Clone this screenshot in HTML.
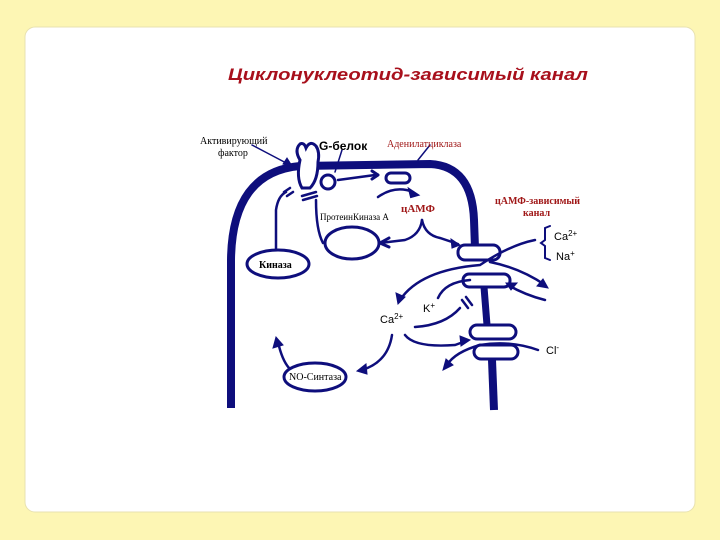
<!DOCTYPE html>
<html><head><meta charset="utf-8"><style>
body{margin:0;width:720px;height:540px;background:#fdf6b4;overflow:hidden}
svg{position:absolute;left:0;top:0}
.s{font-family:"Liberation Sans",sans-serif}
.r{font-family:"Liberation Serif",serif}
</style></head><body>
<svg width="720" height="540" viewBox="0 0 720 540">
<rect x="25" y="27" width="670" height="485" rx="10" fill="#fff" stroke="#e8e2b0"/>
<text class="s" x="228" y="80" font-style="italic" font-weight="bold" font-size="17" fill="#a8101c" textLength="360" lengthAdjust="spacingAndGlyphs">Циклонуклеотид-зависимый  канал</text>
<g fill="none" stroke="#0e0e7c" stroke-linecap="round">
<path d="M231 408 L231 260 Q232 172 300 166 L430 164 Q472 166 474 220 L475 248" stroke-width="8" stroke-linecap="butt"/>
<path d="M484 287 L487 325" stroke-width="7"/>
<path d="M492 360 L494 410" stroke-width="8" stroke-linecap="butt"/>
<rect x="458" y="245" width="42" height="15" rx="7" stroke-width="3" fill="#fff"/>
<rect x="463" y="274" width="47" height="13" rx="6" stroke-width="3" fill="#fff"/>
<rect x="470" y="325" width="46" height="14" rx="7" stroke-width="3" fill="#fff"/>
<rect x="474" y="345" width="44" height="14" rx="7" stroke-width="3" fill="#fff"/>
<path d="M300 160 Q294 150 300 144 Q304 142 306 148 Q310 140 316 146 Q320 152 318 162 Q318 180 310 188 L302 188 Q296 178 300 160Z" stroke-width="3" fill="#fff"/>
<circle cx="328" cy="182" r="7" stroke-width="3" fill="#fff"/>
<rect x="386" y="173" width="24" height="10" rx="5" stroke-width="3" fill="#fff"/>
<ellipse cx="352" cy="243" rx="27" ry="16" stroke-width="3"/>
<ellipse cx="278" cy="264" rx="31" ry="14" stroke-width="3"/>
<ellipse cx="315" cy="377" rx="31" ry="14" stroke-width="3"/>
<path d="M284 192 L290 188 M287 196 L293 192 M302 196 L316 192 M303 200 L317 196" stroke-width="2.5"/>
<path d="M276 250 L276 210 Q278 196 286 192" stroke-width="2.5"/>
<path d="M323 243 Q316 230 316 200" stroke-width="2.5"/>
<path d="M338 180 L375 175" stroke-width="2.5"/>
<path d="M378 175 L372 171 M378 175 L372 179" stroke-width="3"/>
<path d="M378 197 Q395 185 413 192" stroke-width="2.5"/>
<path d="M418 195 L409 189 L411 197Z" fill="#0e0e7c" stroke-width="2"/>
<path d="M422 220 Q420 235 405 240 L380 243" stroke-width="2.5"/>
<path d="M380 243 L389 238 M380 243 L389 247" stroke-width="3"/>
<path d="M422 220 Q425 235 440 238 L458 244" stroke-width="2.5"/>
<path d="M460 245 L451 239 L452 248Z" fill="#0e0e7c"/>
<path d="M535 240 Q510 245 480 265 Q420 270 400 300" stroke-width="2.5"/>
<path d="M398 304 L396 293 L405 297Z" fill="#0e0e7c"/>
<path d="M490 262 Q520 268 545 285" stroke-width="2.5"/>
<path d="M548 288 L537 286 L543 279Z" fill="#0e0e7c"/>
<path d="M545 300 Q525 295 508 285" stroke-width="2.5"/>
<path d="M506 283 L517 283 L511 290Z" fill="#0e0e7c"/>
<path d="M438 298 Q445 282 470 280" stroke-width="2.5"/>
<path d="M415 327 Q445 325 460 308" stroke-width="2.5"/>
<path d="M462 300 L468 308 M466 297 L472 305" stroke-width="2.5"/>
<path d="M405 335 Q415 348 455 345 L466 341" stroke-width="2.5"/>
<path d="M470 340 L460 336 L461 346Z" fill="#0e0e7c"/>
<path d="M538 350 Q510 340 480 345 Q455 352 447 365" stroke-width="2.5"/>
<path d="M443 370 L446 359 L453 365Z" fill="#0e0e7c"/>
<path d="M392 335 Q388 362 362 370" stroke-width="2.5"/>
<path d="M357 371 L366 364 L367 374Z" fill="#0e0e7c"/>
<path d="M289 368 Q282 360 278 342" stroke-width="2.5"/>
<path d="M276 337 L273 348 L283 345Z" fill="#0e0e7c"/>
<path d="M252 145 L290 165" stroke-width="1.5"/>
<path d="M292 166 L283 164 L287 158Z" fill="#0e0e7c"/>
<path d="M342 150 L335 172" stroke-width="1.5"/>
<path d="M430 145 L418 160" stroke-width="1.5"/>
<path d="M550 226 L545 228 L545 240 L541 243 L545 246 L545 258 L550 260" stroke-width="2"/>
</g>
<g class="r">
<text x="200" y="144" font-size="10">Активирующий</text>
<text x="218" y="156" font-size="10">фактор</text>
<text class="s" x="319" y="150" font-size="12" font-weight="bold">G-белок</text>
<text x="387" y="147" font-size="10" fill="#a01818">Аденилатциклаза</text>
<text x="401" y="212" font-size="11" font-weight="bold" fill="#a01818">цАМФ</text>
<text x="320" y="220" font-size="9">ПротеинКиназа А</text>
<text x="495" y="204" font-size="10" font-weight="bold" fill="#a01818">цАМФ-зависимый</text>
<text x="523" y="216" font-size="10" font-weight="bold" fill="#a01818">канал</text>
<text class="s" x="554" y="240" font-size="11">Ca<tspan font-size="8" dy="-4">2+</tspan></text>
<text class="s" x="556" y="260" font-size="11">Na<tspan font-size="8" dy="-4">+</tspan></text>
<text x="259" y="268" font-size="10" font-weight="bold">Киназа</text>
<text class="s" x="423" y="312" font-size="11">K<tspan font-size="8" dy="-4">+</tspan></text>
<text class="s" x="380" y="323" font-size="11">Ca<tspan font-size="8" dy="-4">2+</tspan></text>
<text class="s" x="546" y="354" font-size="11">Cl<tspan font-size="8" dy="-4">-</tspan></text>
<text x="289" y="380" font-size="10">NO-Синтаза</text>
</g>
</svg>
</body></html>
